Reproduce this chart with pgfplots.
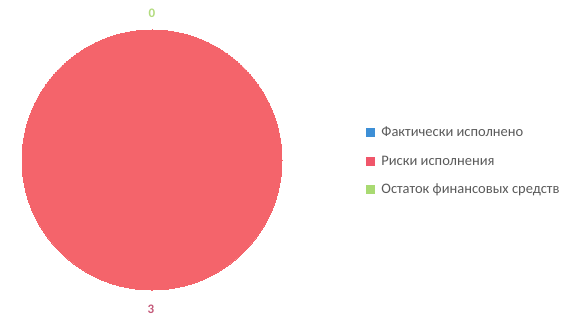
\documentclass[border=0pt]{standalone}
\usepackage{fontspec}
\setmainfont{Carlito}
\usepackage{pgfplots}
\pgfplotsset{compat=1.18}
\definecolor{pieRed}{HTML}{F4646B}
\definecolor{legBlue}{HTML}{3D8FD6}
\definecolor{legRed}{HTML}{F0566A}
\definecolor{legGreen}{HTML}{A9DA72}
\definecolor{lblGreen}{HTML}{B2DB7E}
\definecolor{lblRed}{HTML}{C45A7A}
\definecolor{txtGray}{HTML}{5A5A5A}
\begin{document}
\begin{tikzpicture}
\begin{axis}[
  width=581pt, height=319pt, scale only axis,
  xmin=0, xmax=581, ymin=0, ymax=319,
  hide axis, clip=false,
  legend style={at={(366/581,194/319)}, anchor=north west, draw=none, fill=none,
    font=\fontsize{14.5}{16}\selectfont\color{txtGray}, row sep=13.5pt,
    inner sep=0pt, outer sep=0pt},
  legend cell align=left,
  legend image code/.code={\fill[#1] (0pt,-4pt) rectangle (8pt,4pt); \path (13pt,0pt);},
]
% pie: Фактически исполнено = 0, Риски исполнения = 3, Остаток = 0 -> full circle
\addlegendimage{legBlue}
\addlegendentry{Фактически исполнено}
\addplot[only marks, color=pieRed, mark=*, mark size=130pt, mark options={fill=pieRed, draw=pieRed, line width=0pt}, forget plot]
  coordinates {(152,159)};
\addlegendimage{legRed}
\addlegendentry{Риски исполнения}
\addlegendimage{legGreen}
\addlegendentry{Остаток финансовых средств}
% data labels
\addplot[only marks, mark=none, nodes near coords, point meta=explicit symbolic,
  nodes near coords style={font=\fontsize{13}{15}\selectfont\bfseries\color{lblGreen}, anchor=center}, forget plot]
  coordinates {(152,306)[0]};
\addplot[only marks, mark=none, nodes near coords, point meta=explicit symbolic,
  nodes near coords style={font=\fontsize{13}{15}\selectfont\bfseries\color{lblRed}, anchor=center}, forget plot]
  coordinates {(151,10)[3]};
\end{axis}
\pgfresetboundingbox
\path (current axis.south west) rectangle (current axis.north east);
\end{tikzpicture}
\end{document}
